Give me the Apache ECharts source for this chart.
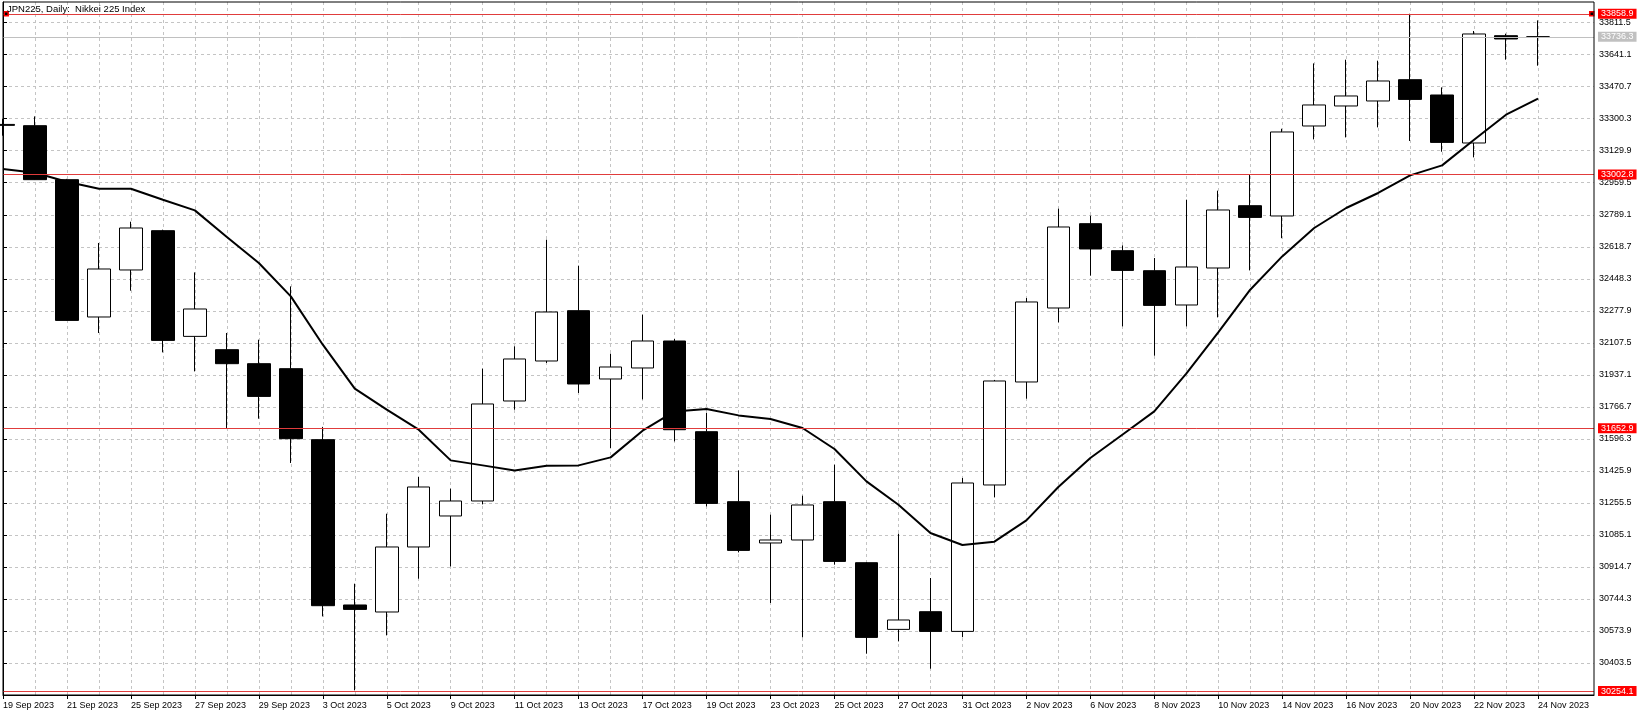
<!DOCTYPE html>
<html><head><meta charset="utf-8">
<script src="https://cdn.jsdelivr.net/npm/echarts@6/dist/echarts.min.js"></script>
<style>html,body{margin:0;padding:0;background:#fff}#c{width:1647px;height:716px}</style>
</head><body><div id="c"></div><script>
const dates = ['19 Sep 2023','20 Sep 2023','21 Sep 2023','22 Sep 2023','25 Sep 2023','26 Sep 2023','27 Sep 2023','28 Sep 2023','29 Sep 2023',
  '2 Oct 2023','3 Oct 2023','4 Oct 2023','5 Oct 2023','6 Oct 2023','9 Oct 2023','10 Oct 2023','11 Oct 2023','12 Oct 2023','13 Oct 2023',
  '16 Oct 2023','17 Oct 2023','18 Oct 2023','19 Oct 2023','20 Oct 2023','23 Oct 2023','24 Oct 2023','25 Oct 2023','26 Oct 2023','27 Oct 2023',
  '30 Oct 2023','31 Oct 2023','1 Nov 2023','2 Nov 2023','3 Nov 2023','6 Nov 2023','7 Nov 2023','8 Nov 2023','9 Nov 2023','10 Nov 2023',
  '13 Nov 2023','14 Nov 2023','15 Nov 2023','16 Nov 2023','17 Nov 2023','20 Nov 2023','21 Nov 2023','22 Nov 2023','23 Nov 2023','24 Nov 2023'];
const open  = [33270,33263.2,32975.8,32245.0,32495.2,32704.4,32141.8,32071.0,31996.5,31969.9,31592.0,30712.2,30674.9,31020.9,31185.9,31265.7,31797.9,32010.8,32278.6,31915.0,31973.6,32117.3,31634.5,31262.0,31042.2,31058.1,31262.0,30937.3,30582.3,30676.5,30571.6,31350.9,31899.1,32292.9,32741.6,32597.9,32491.4,32308.9,32505.8,32837.4,32782.6,33261.6,33368.1,33394.7,33508.0,33426.6,33171.1,33742.2,33736.3];
const close = [33265,32975.8,32226.9,32500.5,32718.7,32120.5,32287.6,31996.5,31822.4,31597.3,30708.4,30688.8,31020.9,31340.2,31265.7,31782.0,32021.5,32271.6,31888.4,31978.9,32117.3,31645.0,31252.9,31002.8,31058.1,31244.4,30944.2,30539.8,30632.3,30571.6,31361.5,31904.4,32324.9,32724.0,32607.0,32493.0,32306.8,32511.1,32814.5,32775.1,33229.7,33373.4,33421.3,33501.1,33403.2,33174.3,33751.3,33724.7,33736.3];
const low   = [33210,32974.0,32225.0,32159.8,32385.0,32056.6,31955.5,31654.2,31703.7,31468.0,30651.4,30258.0,30550.5,30852.1,30917.6,31247.6,31751.6,32000.2,31840.5,31547.8,31806.4,31582.9,31236.9,30992.1,30722.8,30539.8,30926.7,30453.0,30518.5,30373.1,30540.8,31284.8,31810.2,32216.3,32464.9,32195.0,32039.0,32195.0,32242.9,32493.0,32664.4,33190.3,33200.9,33254.2,33181.8,33124.8,33094.5,33614.5,33582.6];
const high  = [33300,33312.7,32980.0,32638.9,32752.2,32709.7,32482.4,32159.9,32124.2,32407.9,31660.0,30825.5,31198.1,31393.5,31331.2,31969.9,32088.6,32656.5,32518.1,32049.7,32257.3,32127.9,31734.1,31428.5,31192.8,31293.9,31458.9,30940.0,31091.6,30855.8,31388.1,31910.0,32346.1,32821.4,32784.2,32626.1,32559.0,32869.3,32917.3,33002.8,33247.0,33594.8,33614.5,33609.2,33858.9,33467.1,33767.2,33752.9,33823.7];
const ma    = [33032.7,33013.1,32965.1,32927.9,32927.9,32869.3,32812.4,32670.8,32532.4,32354.7,32097.6,31863.4,31751.6,31645.2,31481.8,31455.2,31428.5,31453.6,31455.2,31497.8,31639.9,31742.6,31755.4,31721.3,31702.2,31654.2,31542.4,31370.0,31246.0,31095.4,31031.5,31049.1,31162.5,31340.2,31494.6,31618.6,31742.6,31943.2,32163.1,32390.3,32567.6,32718.7,32825.2,32905.0,32998.7,33051.9,33188.7,33321.8,33406.9];
const yTicks = [30403.5,30573.9,30744.3,30914.7,31085.1,31255.5,31425.9,31596.3,31766.7,31937.1,32107.5,32277.9,32448.3,32618.7,32789.1,32959.5,33129.9,33300.3,33470.7,33641.1,33811.5];
const levels = [33858.9,33002.8,31652.9,30254.1];
const bid = 33736.3;
const title = 'JPN225, Daily:  Nikkei 225 Index';

const FONT = 'Liberation Sans';
const yMin = 30233.1, yMax = 33921.5;
const xMax = 49.75;
const allIdx = dates.map((d, i) => i);
const labelIdx = allIdx.filter(i => i % 2 === 0);
const candles = dates.map((d, i) => [i, open[i], close[i], low[i], high[i]]);
const maData = ma.map((v, i) => [i, v]);

const chart = echarts.init(document.getElementById('c'), null, {renderer: 'canvas'});
chart.setOption({
  animation: false,
  backgroundColor: '#ffffff',
  title: {text: title, left: 7, top: 4, padding: 0,
    textStyle: {fontFamily: FONT, fontSize: 9.5, fontWeight: 'normal', color: '#000'}},
  grid: {left: 2, top: 2, right: 53, bottom: 21, show: true, borderColor: '#000', borderWidth: 1,
    backgroundColor: 'transparent', z: 10},
  xAxis: [
    {type: 'value', min: 0, max: xMax, position: 'bottom',
      axisLine: {show: true, lineStyle: {color: '#000', width: 1}},
      axisTick: {show: true, length: 4, customValues: labelIdx, lineStyle: {color: '#000'}},
      axisLabel: {customValues: labelIdx, formatter: v => dates[Math.round(v)] || '', align: 'left',
        margin: 6, color: '#000', fontFamily: FONT, fontSize: 9},
      splitLine: {show: false}},
    {type: 'value', min: 0, max: xMax, position: 'top',
      axisLine: {show: false}, axisTick: {show: false, customValues: allIdx},
      axisLabel: {show: false, customValues: allIdx},
      splitLine: {show: true, lineStyle: {color: '#c4c4c4', type: [3, 3], width: 1}}}
  ],
  yAxis: {type: 'value', position: 'right', min: yMin, max: yMax,
    axisLine: {show: true, lineStyle: {color: '#000', width: 1}},
    axisTick: {show: true, length: 4, customValues: yTicks, lineStyle: {color: '#000'}},
    axisLabel: {customValues: yTicks, formatter: v => v.toFixed(1), margin: 5, color: '#000',
      fontFamily: FONT, fontSize: 9},
    splitLine: {show: true, lineStyle: {color: '#c4c4c4', type: [3, 3], width: 1}}},
  series: [
    {type: 'candlestick', xAxisIndex: 0, data: candles, barWidth: 23, silent: true,
      emphasis: {disabled: true},
      itemStyle: {color: '#ffffff', color0: '#000000', borderColor: '#000000', borderColor0: '#000000', borderWidth: 1}},
    {type: 'line', xAxisIndex: 0, data: maData, symbol: 'none', silent: true, z: 3,
      lineStyle: {color: '#000', width: 2}, emphasis: {disabled: true}},
    {type: 'line', xAxisIndex: 0, data: [], z: 4, silent: true,
      markLine: {silent: true, symbol: 'none', animation: false,
        lineStyle: {type: 'solid', width: 1},
        emphasis: {disabled: true},
        label: {show: true, position: 'end', distance: 4, formatter: p => Number(p.value).toFixed(1),
          color: '#fff', fontFamily: FONT, fontSize: 9, lineHeight: 10, padding: [0, 3, 0, 3]},
        data: levels.map(v => ({yAxis: v, lineStyle: {color: '#e03c3c'}, label: {backgroundColor: '#ff0000'}}))
          .concat([{yAxis: bid, lineStyle: {color: '#c0c0c0'}, label: {backgroundColor: '#c0c0c0'}}])},
      markPoint: {silent: true, symbol: 'rect', symbolSize: 4, animation: false,
        itemStyle: {color: '#000', borderColor: '#ff0000', borderWidth: 1.5},
        label: {show: false},
        data: [{coord: [0.1, levels[0]]}, {coord: [xMax - 0.07, levels[0]]}]}}
  ]
});
</script></body></html>
